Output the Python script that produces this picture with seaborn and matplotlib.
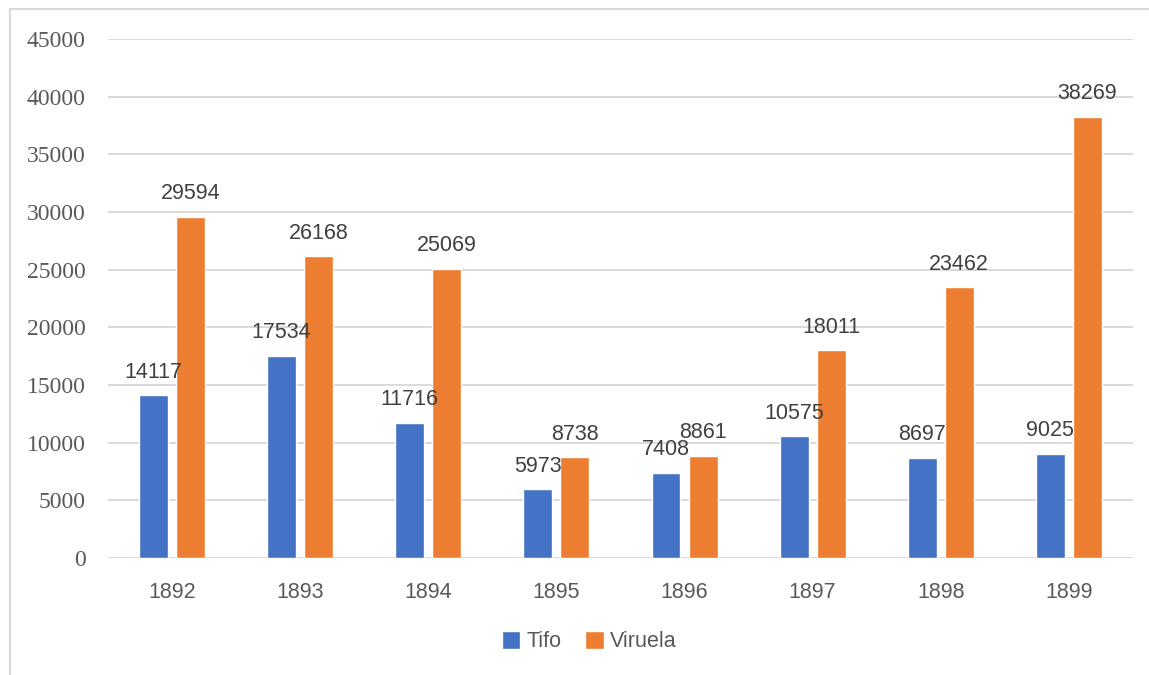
import matplotlib
matplotlib.use("Agg")
import matplotlib.pyplot as plt
from matplotlib.patches import Rectangle
import pandas as pd
import seaborn as sns

# Annual deaths by disease
years = ["1892", "1893", "1894", "1895", "1896", "1897", "1898", "1899"]
tifo = [14117, 17534, 11716, 5973, 7408, 10575, 8697, 9025]
viruela = [29594, 26168, 25069, 8738, 8861, 18011, 23462, 38269]
series_names = ["Tifo", "Viruela"]
y_ticks = [0, 5000, 10000, 15000, 20000, 25000, 30000, 35000, 40000, 45000]

df = pd.DataFrame({
    "Año": years * 2,
    "Serie": [series_names[0]] * len(years) + [series_names[1]] * len(years),
    "Valor": tifo + viruela,
})

sns.set_theme(style="white")
plt.rcParams["font.family"] = ["Liberation Sans", "DejaVu Sans"]

fig = plt.figure(figsize=(11.49, 6.75), dpi=100)
ax = fig.add_axes([0.094, 0.1733, 0.892, 0.7689])

palette = {"Tifo": "#4472C4", "Viruela": "#ED7D31"}
sns.barplot(data=df, x="Año", y="Valor", hue="Serie", order=years,
            hue_order=series_names, palette=palette, width=0.578, gap=0.218,
            saturation=1, ax=ax, legend=True, zorder=3)

for container in ax.containers:
    ax.bar_label(container, fmt="%d", padding=9, fontsize=15.5,
                 color="#404040", zorder=4)

ax.set_xlim(-0.5, len(years) - 0.5)
ax.set_ylim(0, 45000)
ax.set_yticks(y_ticks)
ax.set_yticklabels([str(v) for v in y_ticks], family="Liberation Serif",
                   fontsize=17, color="#595959")
ax.tick_params(axis="y", length=0, pad=16)
ax.tick_params(axis="x", length=0, pad=17, labelsize=15.5, labelcolor="#595959")
ax.set_xlabel("")
ax.set_ylabel("")
ax.yaxis.grid(True, color="#D9D9D9", linewidth=1.4, zorder=0)
ax.set_axisbelow(True)
for spine in ax.spines.values():
    spine.set_visible(False)

handles, labels = ax.get_legend_handles_labels()
ax.legend_.remove()
fig.legend(handles, labels, loc="center", bbox_to_anchor=(0.513, 0.049),
           ncol=2, frameon=False, fontsize=15.5, handlelength=0.85,
           handleheight=0.85, handletextpad=0.3, columnspacing=1.1,
           labelcolor="#595959")

# Light chart-area frame
fig.patches.append(Rectangle((10 / 1149, -0.1), 1.2, 1.1 - 9 / 675,
                             transform=fig.transFigure, fill=False,
                             edgecolor="#D9D9D9", linewidth=1.5))

fig.savefig("out.png", dpi=100)
